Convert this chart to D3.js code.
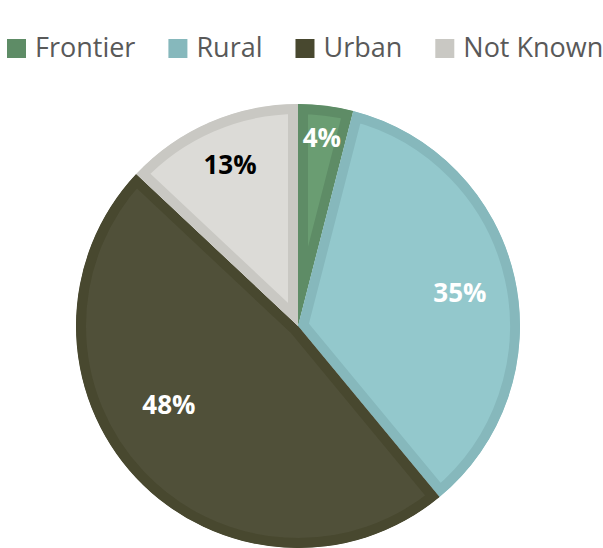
<!DOCTYPE html>
<html>
<head>
<meta charset="utf-8">
<script src="https://cdn.jsdelivr.net/npm/d3@7"></script>
<style>
  body { margin: 0; background: #fff; }
  svg { display: block; font-family: "Open Sans", sans-serif; }
</style>
</head>
<body>
<svg id="chart" width="603" height="548"></svg>
<script>
// slice data
const categories = ["Frontier", "Rural", "Urban", "Not Known"];
const values = [4, 35, 48, 13];
const labels = ["4%", "35%", "48%", "13%"];

// styling
const fills = ["#6a9d72", "#93c8cc", "#505039", "#dcdbd7"];
const borders = ["#5e8c66", "#86b8bc", "#48482f", "#c9c8c3"];
const labelColors = ["#ffffff", "#ffffff", "#ffffff", "#000000"];
// label placement (fraction of radius, angle nudge in degrees) - mimics excel "best fit"
const labelRadius = [0.855, 0.745, 0.68, 0.79];
const labelNudge = [0, 0.8, 12, 0.6];

const svg = d3.select("#chart");
const cx = 298, cy = 326, r = 222;

const pie = d3.pie().sort(null).value(d => d)(values);
const arc = d3.arc().innerRadius(0).outerRadius(r);

const g = svg.append("g").attr("transform", `translate(${cx},${cy})`);
const defs = svg.append("defs");

pie.forEach((d, i) => {
    defs.append("clipPath")
        .attr("id", "clip" + i)
        .append("path")
        .attr("d", arc(d));
});

//slices with the border drawn inside
g.selectAll("path.slice")
    .data(pie)
    .enter()
    .append("path")
    .attr("class", "slice")
    .attr("d", arc)
    .attr("fill", (d, i) => fills[i])
    .attr("stroke", (d, i) => borders[i])
    .attr("stroke-width", 20)
    .attr("stroke-linejoin", "miter")
    .attr("clip-path", (d, i) => `url(#clip${i})`);

//percent labels
g.selectAll("text.lbl")
    .data(pie)
    .enter()
    .append("text")
    .attr("class", "lbl")
    .attr("transform", (d, i) => {
        const a = (d.startAngle + d.endAngle) / 2 + labelNudge[i] * Math.PI / 180;
        const rr = r * labelRadius[i];
        return `translate(${rr * Math.sin(a)},${-rr * Math.cos(a)})`;
    })
    .attr("dy", "0.36em")
    .attr("text-anchor", "middle")
    .attr("font-size", "26px")
    .attr("font-weight", "bold")
    .attr("fill", (d, i) => labelColors[i])
    .text((d, i) => labels[i]);

//legend across the top
const legend = svg.append("g").attr("class", "legend");
let x = 7;
categories.forEach((c, i) => {
    const item = legend.append("g");
    item.append("rect")
        .attr("x", x)
        .attr("y", 39)
        .attr("width", 19)
        .attr("height", 19)
        .attr("fill", borders[i]);
    const t = item.append("text")
        .attr("x", x + 28)
        .attr("y", 57)
        .attr("font-size", "27px")
        .attr("fill", "#595959")
        .text(c);
    x += 28 + t.node().getComputedTextLength() + 33;
});
</script>
</body>
</html>
